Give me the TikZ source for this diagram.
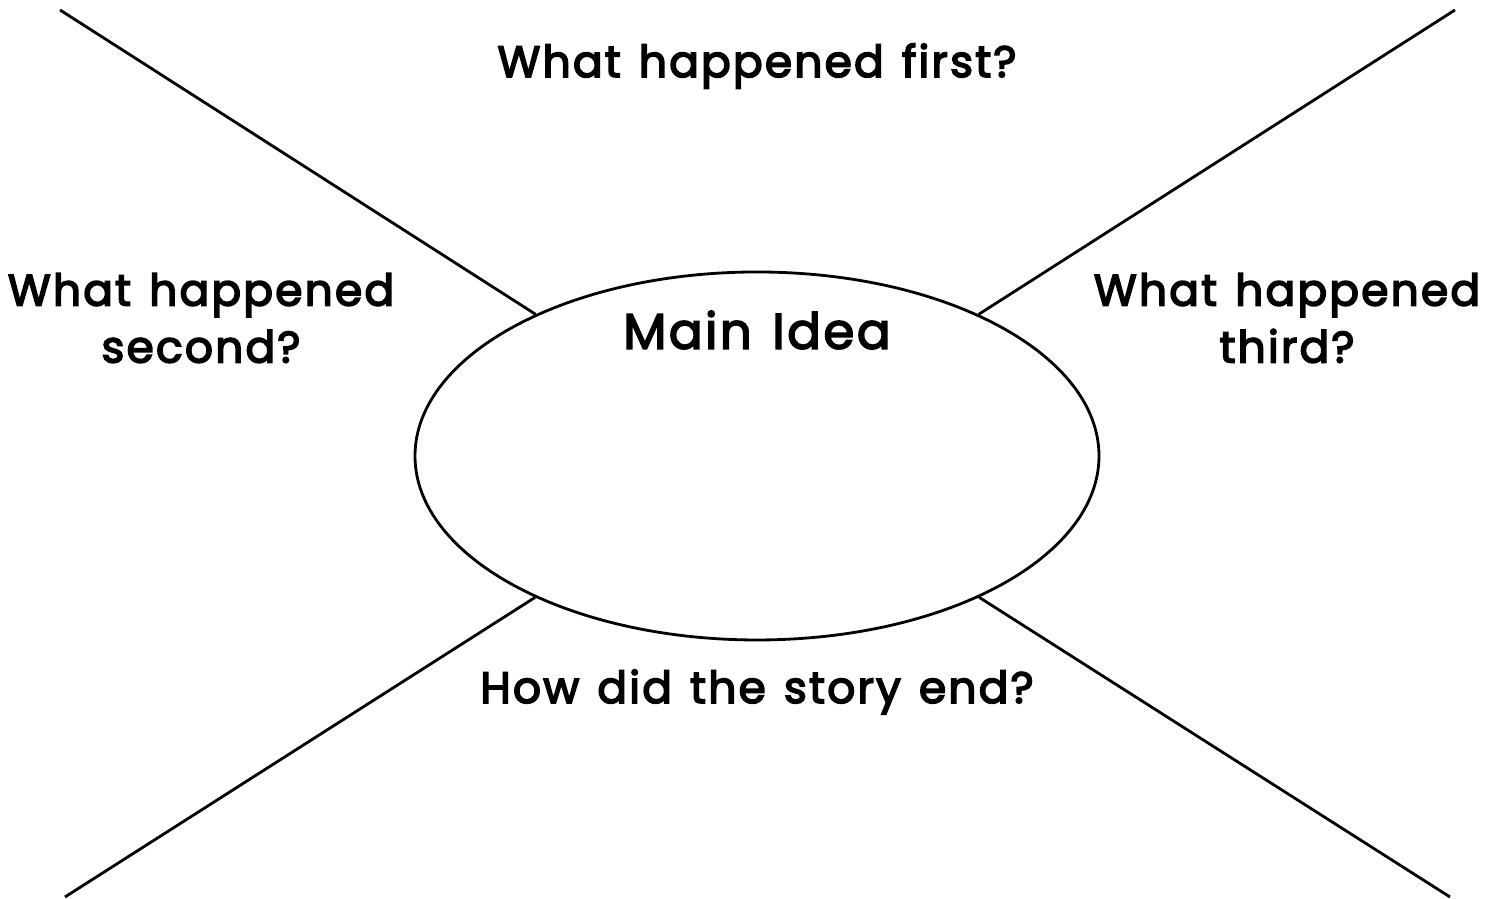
\documentclass[tikz,border=0pt]{standalone}
\usepackage{fontspec}
\setmainfont{Poppins}[LetterSpace=5, WordSpace=1.3]
\usetikzlibrary{shapes.geometric}
% heavier strokes for the rounded labels
\newcommand\heavytext[1]{\special{pdf:literal 2 Tr 0.45 w}#1\special{pdf:literal 0 Tr}}
\begin{document}
\begin{tikzpicture}[
    label text/.style={font=\fontsize{12.5}{16.2}\selectfont, align=center, inner sep=0pt},
    spoke/.style={thick, black}
  ]
  \useasboundingbox (0,0) rectangle (14.97,8.99);

  % Main idea ellipse
  \node[draw, thick, ellipse, minimum width=6.84cm, minimum height=3.68cm, inner sep=0pt] (idea) at (7.57,4.43) {};
  \node[font=\fontsize{14.2}{18}\selectfont, inner sep=0pt] (main) at (7.57,5.69) {\heavytext{Main Idea}};

  % Spokes
  \coordinate (tl) at (0.60,8.89);
  \coordinate (tr) at (14.55,8.89);
  \coordinate (bl) at (0.65,0.02);
  \coordinate (br) at (14.50,0.02);
  \draw[spoke] (tl) -- (idea);
  \draw[spoke] (tr) -- (idea);
  \draw[spoke] (bl) -- (idea);
  \draw[spoke] (br) -- (idea);

  % Questions
  \node[label text] (first) at (7.57,8.33) {\heavytext{What happened first?}};
  \node[label text] (second) at (2.01,5.81) {\heavytext{What happened}\\\heavytext{second?}};
  \node[label text] (third) at (12.87,5.81) {\heavytext{What happened}\\\heavytext{third?}};
  \node[label text] (end) at (7.57,2.07) {\heavytext{How did the story end?}};
\end{tikzpicture}
\end{document}
